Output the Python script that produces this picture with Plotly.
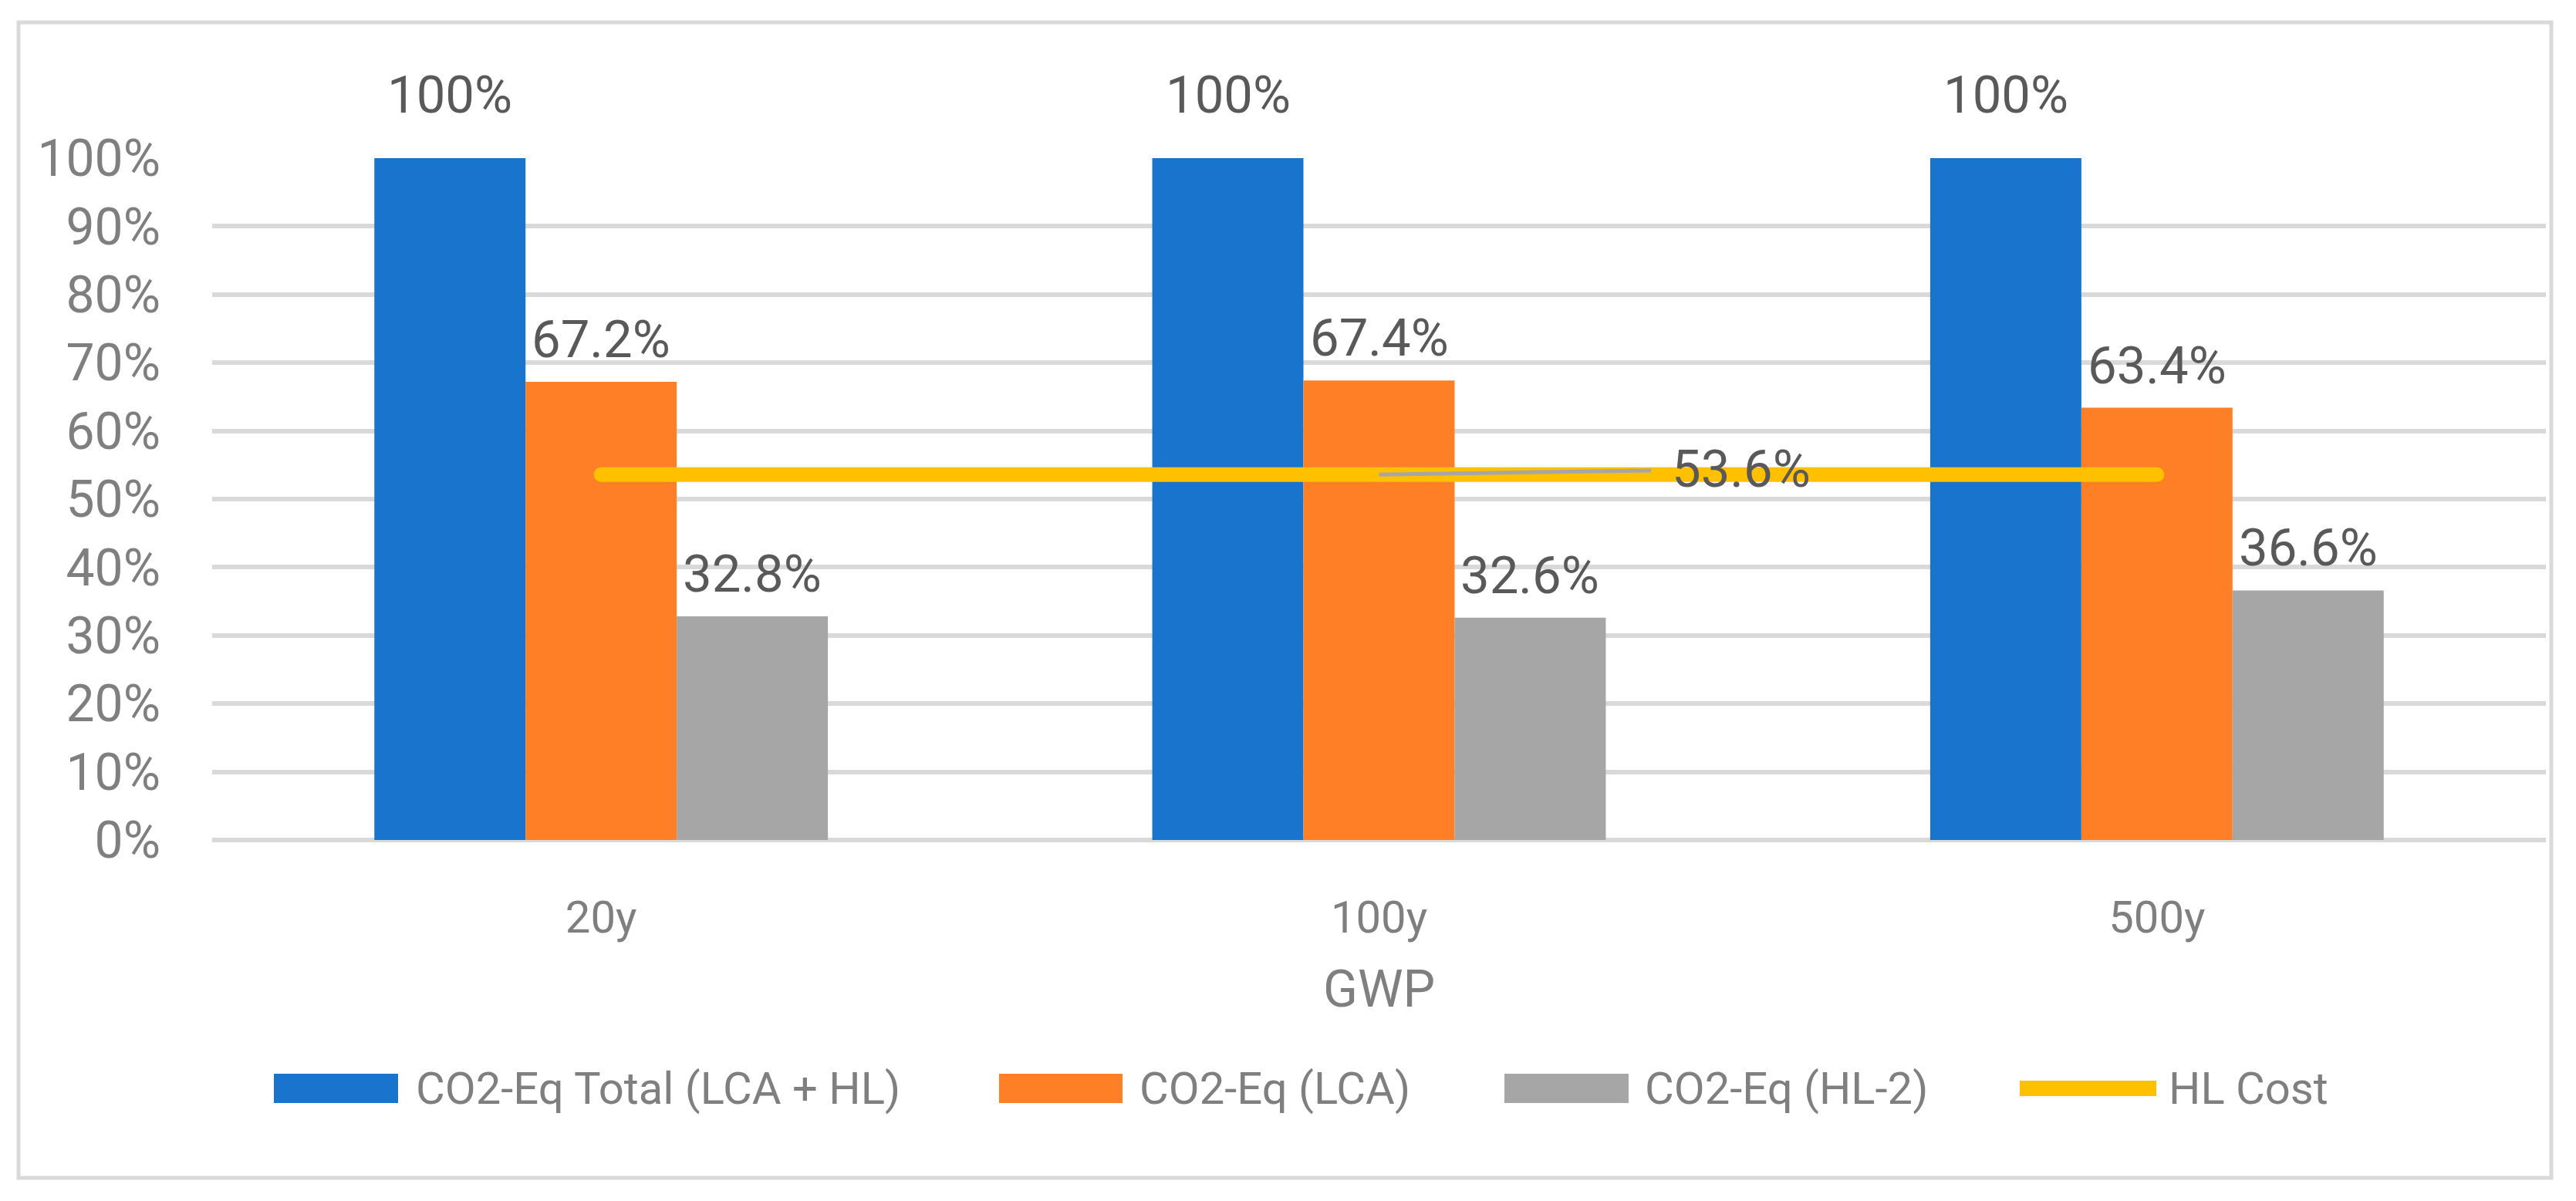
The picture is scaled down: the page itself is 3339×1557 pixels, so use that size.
import plotly.graph_objects as go

# ---------------- data ----------------
categories = ["20y", "100y", "500y"]
total_lca_hl = [100, 100, 100]
lca = [67.2, 67.4, 63.4]
hl2 = [32.8, 32.6, 36.6]
hl_cost = [53.6, 53.6, 53.6]
series_names = ["CO2-Eq Total (LCA + HL)", "CO2-Eq (LCA)", "CO2-Eq (HL-2)", "HL Cost"]
y_tick_values = list(range(0, 101, 10))
y_tick_labels = [f"{v}%" for v in y_tick_values]
x_title = "GWP"
hl_label_index = 1  # the HL Cost point that carries a label

# ---------------- style / layout ----------------
W, H = 3339, 1557
L, R, T, B = 275, 39, 205, 468
PW, PH = W - L - R, H - T - B
BARGAP = 0.417
COLORS = ["#1874CD", "#FF7F27", "#A6A6A6", "#FFC000"]
FONT = "Roboto"
LABEL_COLOR = "#595959"
AXIS_COLOR = "#7F7F7F"
GRID_COLOR = "#D9D9D9"
LABEL_GAP = [82, 55, 55]  # px above bar top to label centre, per series


def px2x(px):
    return (px - L) / PW


def px2y(py):
    return 1 - (py - T) / PH


def fmt(v):
    return f"{v:g}%"


xpos = list(range(len(categories)))
bar_series = [total_lca_hl, lca, hl2]

fig = go.Figure()
for k, vals in enumerate(bar_series):
    fig.add_trace(go.Bar(
        x=xpos, y=vals, name=series_names[k],
        marker=dict(color=COLORS[k], line=dict(width=0)),
        showlegend=False, hoverinfo="skip",
    ))

fig.add_trace(go.Scatter(
    x=xpos, y=hl_cost, name=series_names[3], mode="lines+markers",
    line=dict(color=COLORS[3], width=19),
    marker=dict(color=COLORS[3], size=19, line=dict(width=0)),
    showlegend=False, hoverinfo="skip",
))

annotations = []
bw = (1 - BARGAP) / len(bar_series)
for k, vals in enumerate(bar_series):
    for i, v in enumerate(vals):
        annotations.append(dict(
            x=xpos[i] + (k - 1) * bw, y=v, xref="x", yref="y",
            text=fmt(v), showarrow=False, yanchor="middle", xanchor="center",
            yshift=LABEL_GAP[k],
            font=dict(family=FONT, size=67, color=LABEL_COLOR),
        ))

annotations.append(dict(
    x=xpos[hl_label_index], y=hl_cost[hl_label_index], xref="x", yref="y",
    text=fmt(hl_cost[hl_label_index]), showarrow=True, arrowhead=0,
    arrowwidth=5, arrowcolor=COLORS[2], ax=469, ay=-7, standoff=0,
    startstandoff=25,
    font=dict(family=FONT, size=67, color=LABEL_COLOR),
))

# custom legend
shapes = []
legend_items = [
    (355, 516, 537, "rect"),
    (1295, 1455, 1475, "rect"),
    (1950, 2111, 2130, "rect"),
    (2618, 2795, 2809, "line"),
]
LEG_Y = 1411
for k, (x0, x1, tx, kind) in enumerate(legend_items):
    hh = 19 if kind == "rect" else 10
    shapes.append(dict(
        type="rect", xref="paper", yref="paper",
        x0=px2x(x0), x1=px2x(x1), y0=px2y(LEG_Y + hh), y1=px2y(LEG_Y - hh),
        fillcolor=COLORS[k], line=dict(width=0), layer="above",
    ))
    annotations.append(dict(
        x=px2x(tx), y=px2y(LEG_Y), xref="paper", yref="paper",
        text=series_names[k], showarrow=False, xanchor="left", yanchor="middle",
        font=dict(family=FONT, size=58, color=AXIS_COLOR),
    ))

# outer border
shapes.append(dict(
    type="rect", xref="paper", yref="paper",
    x0=px2x(24), x1=px2x(3307), y0=px2y(1527), y1=px2y(29),
    line=dict(color=GRID_COLOR, width=5), fillcolor="rgba(0,0,0,0)", layer="below",
))

fig.update_layout(
    width=W, height=H,
    margin=dict(l=L, r=R, t=T, b=B, pad=0),
    paper_bgcolor="white", plot_bgcolor="white",
    barmode="group", bargap=BARGAP, bargroupgap=0,
    showlegend=False,
    font=dict(family=FONT, color=AXIS_COLOR),
    annotations=annotations, shapes=shapes,
    xaxis=dict(
        range=[-0.5, len(categories) - 0.5], tickmode="array",
        tickvals=xpos, ticktext=categories,
        showgrid=False, zeroline=False, showline=False, ticks="",
        tickfont=dict(family=FONT, size=58, color=AXIS_COLOR),
        ticklabelstandoff=61,
        title=dict(text=x_title, standoff=36,
                   font=dict(family=FONT, size=66, color=AXIS_COLOR)),
    ),
    yaxis=dict(
        range=[0, 100], tickmode="array",
        tickvals=y_tick_values, ticktext=y_tick_labels,
        showgrid=True, gridcolor=GRID_COLOR, gridwidth=6,
        zeroline=True, zerolinecolor=GRID_COLOR, zerolinewidth=6,
        showline=False, ticks="",
        tickfont=dict(family=FONT, size=66, color=AXIS_COLOR),
        ticklabelstandoff=66,
    ),
)

fig.write_html("out.html", config={"displayModeBar": False},
               post_script="document.body.style.margin='0';")
